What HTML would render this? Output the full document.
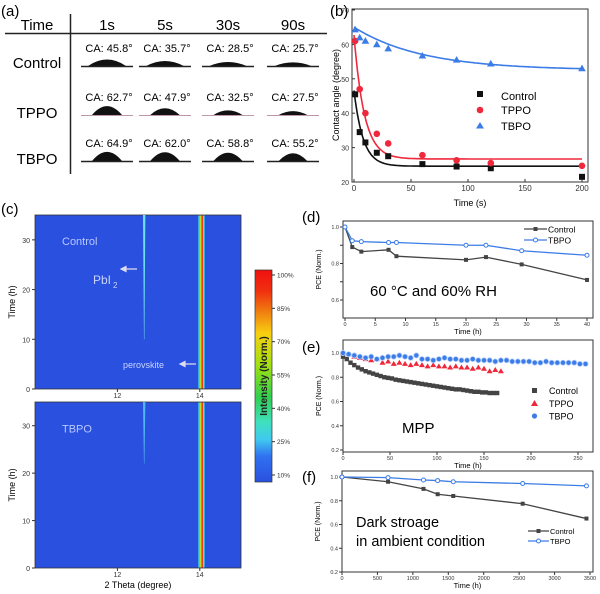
<!DOCTYPE html>
<html><head><meta charset="utf-8">
<style>
html,body{margin:0;padding:0;background:#fff;}
svg{display:block;font-family:"Liberation Sans",Arial,sans-serif;}
</style></head>
<body>
<svg id="fig" width="600" height="594" viewBox="0 0 600 594" xmlns="http://www.w3.org/2000/svg">
<g>
  <text x="1" y="16" font-size="15">(a)</text>
  <text x="37" y="30" font-size="15" text-anchor="middle">Time</text>
  <text x="107" y="30" font-size="15" text-anchor="middle">1s</text>
  <text x="165" y="30" font-size="15" text-anchor="middle">5s</text>
  <text x="228" y="30" font-size="15" text-anchor="middle">30s</text>
  <text x="293" y="30" font-size="15" text-anchor="middle">90s</text>
  <line x1="5" y1="33.5" x2="327" y2="33.5" stroke="#222" stroke-width="1.5"/>
  <line x1="70.5" y1="14" x2="70.5" y2="174" stroke="#222" stroke-width="1.5"/>
  <text x="37" y="68" font-size="15" text-anchor="middle">Control</text>
  <text x="37" y="118" font-size="15" text-anchor="middle">TPPO</text>
  <text x="37" y="164" font-size="15" text-anchor="middle">TBPO</text>
  <g id="drops"></g>
</g>
<g id="panelB"></g>
<g id="panelC"></g>
<g id="panelD"></g>
<g id="panelE"></g>
<g id="panelF"></g>
</svg>
<script>
const NS="http://www.w3.org/2000/svg";
function mk(parent,tag,attrs,txt){const e=document.createElementNS(NS,tag);for(const k in attrs)e.setAttribute(k,attrs[k]);if(txt!==undefined)e.textContent=txt;parent.appendChild(e);return e;}

/* ---------- (a) contact-angle table ---------- */
const caRows=["Control","TPPO","TBPO"];
const caValues=[[45.8,35.7,28.5,25.7],[62.7,47.9,32.5,27.5],[64.9,62.0,58.8,55.2]];
const drops=document.getElementById('drops');
const colX=[107,165,228,293], rowY=[52,101,147];
caRows.forEach((r,ri)=>{caValues[ri].forEach((v,ci)=>{
  const cx=colX[ci], cy=rowY[ri];
  const t=mk(drops,'text',{x:cx+2,y:cy,'font-size':'11','text-anchor':'middle'},'CA: '+v.toFixed(1)+'°');
  
  
  const base=cy+14, w=30-ci*0.5+(ri==0?8:0), h=v/64*9;
  const d=mk(drops,'path',{d:`M${cx-w/2} ${base} Q${cx} ${base-h*2} ${cx+w/2} ${base} Z`,fill:'#111'});
  
  
  const s=mk(drops,'line',{x1:cx-26,y1:base+0.5,x2:cx+26,y2:base+0.5,stroke:ri==1?'#b9a':'#222','stroke-width':ri==1?1:1.5});
  
  
});});

/* ---------- (b) contact angle vs time ---------- */
const bTimes=[1,5,10,20,30,60,90,120,200];
const bControl=[45.5,34.5,31.5,28.5,27.5,25.2,24.5,24.0,21.5];
const bTPPO=[61,47,40,34,31.2,27.8,26.3,25.5,24.7];
const bTBPO=[64.3,62,61,60,58.8,56.7,55.5,54.4,53];
const bFitControl=[24.6,22,8];
const bFitTPPO=[26.7,36,9];
const bFitTBPO=[52.5,12.5,60];
const bXTicks=[0,50,100,150,200];
const bYTicks=[20,30,40,50,60,70];
(function(){
  const g=document.getElementById('panelB');
  const X=v=>354+v*(582-354)/200, Y=v=>182-(v-20)*(172/50);
  mk(g,'text',{x:330,y:16,'font-size':'15'},'(b)');
  const f=mk(g,'rect',{x:352,y:9,width:236,height:173,fill:'none',stroke:'#333','stroke-width':1});
  
  bXTicks.forEach(t=>{mk(g,'line',{x1:X(t),y1:182,x2:X(t),y2:179,stroke:'#333'});
    const l=mk(g,'text',{x:X(t),y:191,'font-size':'8','text-anchor':'middle',fill:'#333'},t);
    });
  bYTicks.forEach(t=>{mk(g,'line',{x1:352,y1:Y(t),x2:355,y2:Y(t),stroke:'#333'});
    const l=mk(g,'text',{x:349,y:Y(t)+3,'font-size':'7','text-anchor':'end',fill:'#333'},t);
    });
  mk(g,'text',{x:470,y:206,'font-size':'9','text-anchor':'middle'},'Time (s)');
  mk(g,'text',{x:0,y:0,'font-size':'9','text-anchor':'middle',transform:'translate(339,95) rotate(-90)'},'Contact angle (degree)');
  const fits=[[bFitControl,'#111'],[bFitTPPO,'#f0283c'],[bFitTBPO,'#3c7ce6']];
  fits.forEach(([p,c])=>{let d='';for(let t=0;t<=200;t+=1){const y=p[0]+p[1]*Math.exp(-t/p[2]);d+=(t?'L':'M')+X(t).toFixed(1)+' '+Y(Math.min(y,69.5)).toFixed(1);}
    const pth=mk(g,'path',{d:d,fill:'none',stroke:c,'stroke-width':1.6});
    
    });
  bTimes.forEach((t,i)=>{
    const s=mk(g,'rect',{x:X(t)-3,y:Y(bControl[i])-3,width:6,height:6,fill:'#111'});
    
    const c=mk(g,'circle',{cx:X(t),cy:Y(bTPPO[i]),r:3.3,fill:'#f0283c'});
    
    const y=Y(bTBPO[i]);
    const tr=mk(g,'path',{d:`M${X(t)} ${y-3.8}L${X(t)+3.8} ${y+2.8}L${X(t)-3.8} ${y+2.8}Z`,fill:'#3c7ce6'});
    
  });
  mk(g,'rect',{x:477,y:91,width:6,height:6,fill:'#111'});
  mk(g,'text',{x:501,y:100,'font-size':'11'},'Control');
  mk(g,'circle',{cx:480,cy:110,r:3.3,fill:'#f0283c'});
  mk(g,'text',{x:501,y:114,'font-size':'11'},'TPPO');
  mk(g,'path',{d:'M480 122L484 128.5L476 128.5Z',fill:'#3c7ce6'});
  mk(g,'text',{x:501,y:130,'font-size':'11'},'TBPO');
})();

/* ---------- (c) XRD heatmaps ---------- */
const cXTicks=[12,14];
const cYTicks=[0,10,20,30];
const cbarTicks=[100,85,70,55,40,25,10];
const pbi2Peak=12.65;
const perovskitePeak=14.03;
const pbi2StartControl=10;
const pbi2StartTBPO=22;
(function(){
  const g=document.getElementById('panelC');
  mk(g,'text',{x:1,y:214,'font-size':'15'},'(c)');
  const defs=mk(g,'defs',{});
  const lg=mk(defs,'linearGradient',{id:'band',x1:0,y1:0,x2:1,y2:0});
  [[0,'#2a50e0'],[0.15,'#40d0f0'],[0.3,'#60e040'],[0.42,'#f0e020'],[0.5,'#f08010'],[0.6,'#e81010'],[0.75,'#f0c020'],[0.85,'#40e0e0'],[1,'#2a50e0']].forEach(s=>mk(lg,'stop',{offset:s[0],'stop-color':s[1]}));
  const cg=mk(defs,'linearGradient',{id:'cbar',x1:0,y1:0,x2:0,y2:1});
  [[0,'#f01010'],[0.1,'#f03010'],[0.2,'#f08010'],[0.3,'#f8d010'],[0.45,'#a0e010'],[0.6,'#30d050'],[0.72,'#40e0c0'],[0.8,'#40c8f0'],[0.88,'#3070f0'],[1,'#2a50e0']].forEach(s=>mk(cg,'stop',{offset:s[0],'stop-color':s[1]}));
  const maps=[{top:215,bot:389,name:'Control',start:pbi2StartControl},{top:402,bot:568,name:'TBPO',start:pbi2StartTBPO}];
  const X=v=>35+(v-10)*(206/5);
  maps.forEach((m,mi)=>{
    const Y=v=>m.bot-v*(m.bot-m.top)/35;
    const r=mk(g,'rect',{x:35,y:m.top,width:206,height:m.bot-m.top,fill:'#2a50e0',stroke:'#333','stroke-width':0.8});
    
    const px=X(pbi2Peak);
    const pb=mk(g,'path',{d:`M${px-1.2} ${m.top}L${px+1.2} ${m.top}L${px+0.2} ${Y(m.start)}L${px-0.2} ${Y(m.start)}Z`,fill:mi==0?'#6ae0f0':'#50b8f0'});
    
    const bx=X(perovskitePeak-0.08);
    const band=mk(g,'rect',{x:bx,y:m.top+0.5,width:X(perovskitePeak+0.1)-bx,height:m.bot-m.top-1,fill:'url(#band)'});
    
    mk(g,'text',{x:62,y:Y(29)+mi*2,'font-size':'11',fill:'#b8c8ff'},m.name);
    cYTicks.forEach(t=>{mk(g,'line',{x1:35,y1:Y(t),x2:32,y2:Y(t),stroke:'#333'});
      mk(g,'text',{x:30,y:Y(t)+3,'font-size':'7','text-anchor':'end',fill:'#333'},t);});
    cXTicks.forEach(t=>{mk(g,'line',{x1:X(t),y1:m.bot,x2:X(t),y2:m.bot+3,stroke:'#333'});
      mk(g,'text',{x:X(t),y:m.bot+9,'font-size':'7','text-anchor':'middle',fill:'#333'},t);});
    mk(g,'text',{x:0,y:0,'font-size':'9','text-anchor':'middle',transform:`translate(15,${(m.top+m.bot)/2}) rotate(-90)`},'Time (h)');
  });
  mk(g,'text',{x:93,y:284,'font-size':'12',fill:'#c8d4ff'},'PbI');
  mk(g,'text',{x:113,y:288,'font-size':'8',fill:'#c8d4ff'},'2');
  mk(g,'path',{d:'M121 269L137 269M121 269L126 266.5L126 271.5Z',stroke:'#dde',fill:'#dde','stroke-width':1.2});
  mk(g,'text',{x:123,y:368,'font-size':'9',fill:'#c8d4ff'},'perovskite');
  mk(g,'path',{d:'M180 364L196 364M180 364L185 361.5L185 366.5Z',stroke:'#dde',fill:'#dde','stroke-width':1.2});
  mk(g,'text',{x:138,y:588,'font-size':'9','text-anchor':'middle'},'2 Theta (degree)');
  const cb=mk(g,'rect',{x:255,y:270,width:17,height:212,fill:'url(#cbar)',stroke:'#333','stroke-width':0.7});
  
  const CY=v=>275+(100-v)*(200/90);
  cbarTicks.forEach(t=>{mk(g,'line',{x1:272,y1:CY(t),x2:275,y2:CY(t),stroke:'#333'});
    mk(g,'text',{x:277,y:CY(t)+2.5,'font-size':'6.5',fill:'#333'},t+'%');});
  mk(g,'text',{x:0,y:0,'font-size':'10','font-weight':'bold','text-anchor':'middle',fill:'#222',transform:'translate(267,376) rotate(-90)'},'Intensity (Norm.)');
})();

function axes(g,o){
  const X=v=>o.x0+(v-o.xmin)*(o.x1-o.x0)/(o.xmax-o.xmin);
  const Y=v=>o.yb-(v-o.ymin)*(o.yb-o.yt)/(o.ymax-o.ymin);
  const fr=mk(g,'rect',{x:o.fx0,y:o.ft,width:o.fx1-o.fx0,height:o.fb-o.ft,fill:'none',stroke:'#333','stroke-width':1});
  
  o.xt.forEach(t=>{mk(g,'line',{x1:X(t),y1:o.fb,x2:X(t),y2:o.fb+3,stroke:'#333'});
    const l=mk(g,'text',{x:X(t),y:o.fb+8,'font-size':'5.5','text-anchor':'middle',fill:'#333'},t);
    });
  o.yt2.forEach(t=>{mk(g,'line',{x1:o.fx0,y1:Y(t),x2:o.fx0-3,y2:Y(t),stroke:'#333'});
    if(o.ylab.includes(t)){const l=mk(g,'text',{x:o.fx0-4,y:Y(t)+2,'font-size':'5.5','text-anchor':'end',fill:'#333'},t.toFixed(1));
    }});
  mk(g,'text',{x:(o.fx0+o.fx1)/2,y:o.fb+16,'font-size':'7.5','text-anchor':'middle'},'Time (h)');
  mk(g,'text',{x:0,y:0,'font-size':'7','text-anchor':'middle',transform:`translate(${o.fx0-22},${(o.ft+o.fb)/2}) rotate(-90)`},'PCE (Norm.)');
  return [X,Y];
}
function line(g,X,Y,xs,ys,color,marker,name){
  const p=mk(g,'polyline',{points:xs.map((x,i)=>X(x)+','+Y(ys[i])).join(' '),fill:'none',stroke:color,'stroke-width':1.3});
  
  xs.forEach((x,i)=>{let m;
    if(marker=='sq')m=mk(g,'rect',{x:X(x)-2,y:Y(ys[i])-2,width:4,height:4,fill:color});
    else m=mk(g,'circle',{cx:X(x),cy:Y(ys[i]),r:2,fill:'#fff',stroke:color,'stroke-width':1});
    });
}

const dTimes=[0,1.2,2.7,7.2,8.5,20,23.3,29.2,40];
const dControl=[1,0.89,0.865,0.875,0.84,0.82,0.835,0.795,0.71];
const dTBPO=[1,0.925,0.92,0.915,0.915,0.9,0.9,0.87,0.845];
const dXTicks=[0,5,10,15,20,25,30,35,40];
const dYTicks=[0.6,0.7,0.8,0.9,1.0];
(function(){
  const g=document.getElementById('panelD');
  mk(g,'text',{x:302,y:222,'font-size':'15'},'(d)');
  const [X,Y]=axes(g,{x0:345,x1:587,xmin:0,xmax:40,yb:300,yt:227,ymin:0.6,ymax:1.0,fx0:343,fx1:593,ft:221,fb:318,xt:dXTicks,yt2:dYTicks,ylab:[0.6,0.8,1.0]});
  line(g,X,Y,dTimes,dControl,'#444','sq','control');
  line(g,X,Y,dTimes,dTBPO,'#3c7ce6','circ','tbpo');
  mk(g,'line',{x1:524,y1:229,x2:547,y2:229,stroke:'#444','stroke-width':1.3});
  mk(g,'rect',{x:533.5,y:227,width:4,height:4,fill:'#444'});
  mk(g,'text',{x:548,y:232.5,'font-size':'8.5'},'Control');
  mk(g,'line',{x1:524,y1:240,x2:547,y2:240,stroke:'#3c7ce6','stroke-width':1.3});
  mk(g,'circle',{cx:535.5,cy:240,r:2,fill:'#fff',stroke:'#3c7ce6'});
  mk(g,'text',{x:548,y:243.5,'font-size':'8.5'},'TBPO');
  mk(g,'text',{x:370,y:296,'font-size':'15'},'60 °C and 60% RH');
})();

const eControlStep=4, eTPPOStep=6, eTBPOStep=6;
const eControl=[0.97,0.95,0.92,0.9,0.88,0.865,0.85,0.84,0.83,0.82,0.81,0.80,0.795,0.79,0.78,0.775,0.77,0.765,0.76,0.755,0.75,0.745,0.74,0.735,0.73,0.725,0.72,0.715,0.71,0.705,0.70,0.70,0.695,0.69,0.685,0.68,0.68,0.675,0.675,0.67,0.67,0.67];
const eTPPO=[1.0,0.99,0.97,0.96,0.95,0.94,0.95,0.92,0.93,0.91,0.92,0.91,0.90,0.91,0.90,0.89,0.9,0.89,0.89,0.88,0.89,0.88,0.88,0.87,0.88,0.87,0.85,0.86,0.85];
const eTBPO=[1.0,0.99,0.98,0.97,0.96,0.97,0.95,0.96,0.97,0.97,0.98,0.97,0.96,0.98,0.95,0.95,0.94,0.95,0.96,0.95,0.95,0.94,0.94,0.95,0.94,0.94,0.94,0.93,0.94,0.94,0.93,0.93,0.93,0.93,0.92,0.92,0.93,0.92,0.92,0.92,0.92,0.92,0.91,0.91];
const eXTicks=[0,50,100,150,200,250];
const eYTicks=[0.2,0.4,0.6,0.8,1.0];
(function(){
  const g=document.getElementById('panelE');
  mk(g,'text',{x:302,y:352,'font-size':'15'},'(e)');
  const [X,Y]=axes(g,{x0:343,x1:578,xmin:0,xmax:250,yb:450,yt:353,ymin:0.2,ymax:1.0,fx0:343,fx1:593,ft:340,fb:452,xt:eXTicks,yt2:eYTicks,ylab:eYTicks});
  eControl.forEach((v,i)=>{const m=mk(g,'rect',{x:X(i*eControlStep)-2.2,y:Y(v)-2.2,width:4.4,height:4.4,fill:'#444'});
    });
  eTPPO.forEach((v,i)=>{const x=X(i*eTPPOStep),y=Y(v);const m=mk(g,'path',{d:`M${x} ${y-3}L${x+3} ${y+2}L${x-3} ${y+2}Z`,fill:'#f0283c'});
    });
  eTBPO.forEach((v,i)=>{const m=mk(g,'circle',{cx:X(i*eTBPOStep),cy:Y(v),r:2.6,fill:'#3c7ce6',stroke:'#bcd4ff','stroke-width':0.8});
    });
  mk(g,'rect',{x:532,y:388,width:5,height:5,fill:'#444'});
  mk(g,'text',{x:549,y:394,'font-size':'9'},'Control');
  mk(g,'path',{d:'M534.5 400L538 406L531 406Z',fill:'#f0283c'});
  mk(g,'text',{x:549,y:407,'font-size':'9'},'TPPO');
  mk(g,'circle',{cx:534.5,cy:416,r:2.6,fill:'#3c7ce6'});
  mk(g,'text',{x:549,y:419.5,'font-size':'9'},'TBPO');
  mk(g,'text',{x:402,y:433,'font-size':'15'},'MPP');
})();

const fTimes=[0,650,1150,1350,1570,2550,3450];
const fControl=[1,0.96,0.9,0.855,0.84,0.775,0.65];
const fTBPO=[1,0.995,0.975,0.97,0.96,0.945,0.925];
const fXTicks=[0,500,1000,1500,2000,2500,3000,3500];
const fYTicks=[0.2,0.4,0.6,0.8,1.0];
(function(){
  const g=document.getElementById('panelF');
  mk(g,'text',{x:302,y:482,'font-size':'15'},'(f)');
  const [X,Y]=axes(g,{x0:342,x1:590,xmin:0,xmax:3500,yb:572,yt:477,ymin:0.2,ymax:1.0,fx0:342,fx1:593,ft:471,fb:572,xt:fXTicks,yt2:fYTicks,ylab:fYTicks});
  line(g,X,Y,fTimes,fControl,'#444','sq','control');
  line(g,X,Y,fTimes,fTBPO,'#3c7ce6','circ','tbpo');
  mk(g,'text',{x:356,y:527,'font-size':'14.5'},'Dark stroage');
  mk(g,'text',{x:356,y:546,'font-size':'14.5'},'in ambient condition');
  mk(g,'line',{x1:528,y1:531,x2:549,y2:531,stroke:'#444','stroke-width':1.3});
  mk(g,'rect',{x:536.5,y:529,width:4,height:4,fill:'#444'});
  mk(g,'text',{x:550,y:534,'font-size':'7.5'},'Control');
  mk(g,'line',{x1:528,y1:541,x2:549,y2:541,stroke:'#3c7ce6','stroke-width':1.3});
  mk(g,'circle',{cx:538.5,cy:541,r:2,fill:'#fff',stroke:'#3c7ce6'});
  mk(g,'text',{x:550,y:544,'font-size':'7.5'},'TBPO');
})();
</script>
</body></html>
